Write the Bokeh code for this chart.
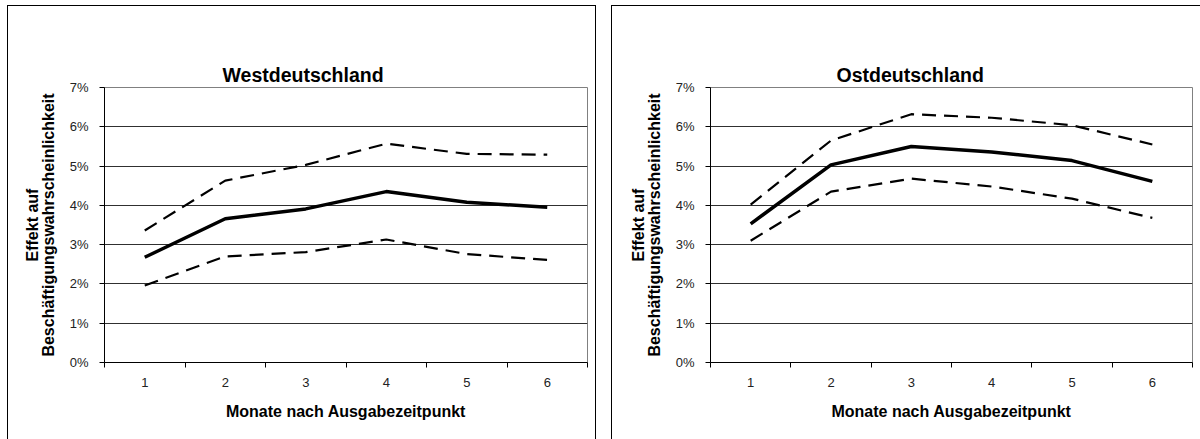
from bokeh.plotting import figure
from bokeh.layouts import row, column
from bokeh.models import FixedTicker, PrintfTickFormatter, Range1d, Spacer, Title
from bokeh.embed import file_html
from bokeh.resources import INLINE

months = [1, 2, 3, 4, 5, 6]
y_ticks = [0, 1, 2, 3, 4, 5, 6, 7]

west_mean = [2.68, 3.66, 3.91, 4.35, 4.08, 3.95]
west_upper = [3.36, 4.63, 5.03, 5.57, 5.31, 5.29]
west_lower = [1.96, 2.70, 2.81, 3.13, 2.76, 2.61]

ost_mean = [3.53, 5.03, 5.50, 5.36, 5.14, 4.61]
ost_upper = [4.02, 5.65, 6.32, 6.23, 6.04, 5.55]
ost_lower = [3.10, 4.35, 4.68, 4.48, 4.17, 3.68]

FONT = "Liberation Sans"


def panel(title, mean, upper, lower, width, mb_left, mb_right, offset, shadow):
    p = figure(width=width, height=434, output_backend="svg", toolbar_location=None,
               x_range=Range1d(0.5, 6.5), y_range=Range1d(0, 7),
               min_border_left=mb_left, min_border_right=mb_right,
               min_border_top=82, min_border_bottom=77,
               border_fill_color=None, background_fill_color="white",
               outline_line_color="#808080", outline_line_width=1,
               styles={"box-shadow": shadow})
    xa = p.below[0]
    ya = p.left[0]

    # main title (outermost panel above the plot)
    p.title.text = title
    p.title.text_font = FONT
    p.title.text_font_size = "19.5px"
    p.title.text_font_style = "bold"
    p.title.text_color = "black"
    p.title.align = "left"
    p.title.vertical_align = "top"
    p.title.offset = offset
    p.title.standoff = 0

    # blank spacer panel between the title and the plot area
    p.add_layout(Title(text=" ", text_font=FONT, text_font_size="10px",
                       text_alpha=0, standoff=29), "above")

    p.line(months, upper, line_color="black", line_width=2.2, line_dash="14 8")
    p.line(months, lower, line_color="black", line_width=2.2, line_dash="14 8")
    p.line(months, mean, line_color="black", line_width=3.5)

    xa.ticker = FixedTicker(ticks=months, minor_ticks=[0.5, 1.5, 2.5, 3.5, 4.5, 5.5, 6.5])
    xa.major_tick_line_color = None
    xa.major_tick_out = 0
    xa.major_tick_in = 0
    xa.minor_tick_line_color = "black"
    xa.minor_tick_out = 5
    xa.minor_tick_in = 0
    xa.axis_line_color = "black"
    xa.major_label_text_font = FONT
    xa.major_label_text_font_size = "13px"
    xa.major_label_text_color = "#222222"
    xa.major_label_standoff = 10
    xa.axis_label = "Monate nach Ausgabezeitpunkt"
    xa.axis_label_text_font = FONT
    xa.axis_label_text_font_size = "16px"
    xa.axis_label_text_font_style = "bold"
    xa.axis_label_text_color = "black"
    xa.axis_label_standoff = 13

    ya.ticker = FixedTicker(ticks=y_ticks, minor_ticks=[])
    ya.formatter = PrintfTickFormatter(format="%d%%")
    ya.major_tick_line_color = "black"
    ya.major_tick_out = 5
    ya.major_tick_in = 0
    ya.minor_tick_line_color = None
    ya.axis_line_color = "black"
    ya.major_label_text_font = FONT
    ya.major_label_text_font_size = "13px"
    ya.major_label_text_color = "#222222"
    ya.major_label_standoff = 11
    ya.axis_label = "Effekt auf\nBeschäftigungswahrscheinlichkeit"
    ya.axis_label_text_font = FONT
    ya.axis_label_text_font_size = "16px"
    ya.axis_label_text_font_style = "bold"
    ya.axis_label_text_color = "black"
    ya.axis_label_text_line_height = 0.95
    ya.axis_label_standoff = 10

    p.xgrid.grid_line_color = None
    p.ygrid.grid_line_color = "#303030"
    p.ygrid.grid_line_width = 1
    return p


p1 = panel("Westdeutschland", west_mean, west_upper, west_lower,
           589, 97, 9, 118, "inset 1px 1px 0 black, inset -1px 0 0 black")
p2 = panel("Ostdeutschland", ost_mean, ost_upper, ost_lower,
           589, 99, 8, 126, "inset 1px 1px 0 black")

layout = column(Spacer(height=5),
                row(Spacer(width=7), p1, Spacer(width=15), p2))

open("out.html", "w").write(file_html(layout, INLINE))
